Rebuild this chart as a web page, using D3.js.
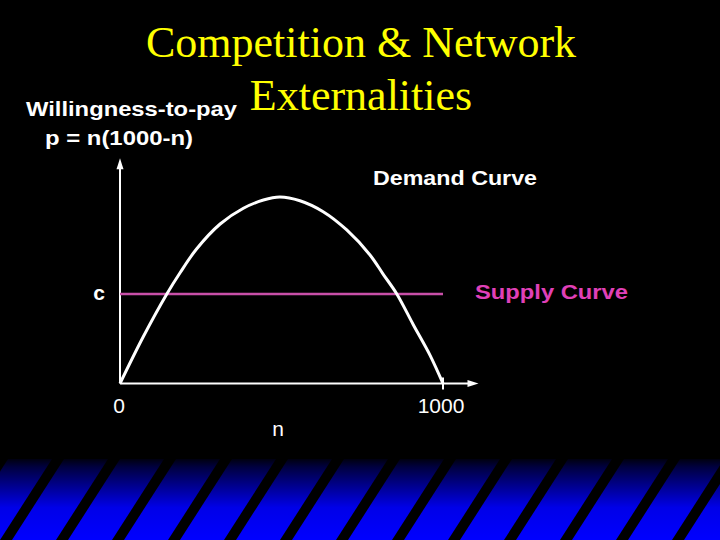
<!DOCTYPE html>
<html>
<head>
<meta charset="utf-8">
<script src="https://cdn.jsdelivr.net/npm/d3@7"></script>
<style>
  html, body { margin: 0; padding: 0; background: #000; }
  svg { display: block; }
</style>
</head>
<body>
<svg id="chart" width="720" height="540"></svg>
<script>
// ---- data ----
const titleLines = ["Competition & Network", "Externalities"];
const yAxisLabel = ["Willingness-to-pay", "p = n(1000-n)"];
const xTickValues = [0, 1000];
const xTickLabels = ["0", "1000"];
const xAxisLabel = "n";
// demand curve
const demandN = [0, 72, 145, 186, 237, 310, 382, 444, 495, 557, 629, 702, 774, 815, 857, 908, 960, 1000];
const demandP = [0, 62700, 120000, 148500, 180300, 213800, 234900, 246000, 250000, 245000, 230300, 205800, 172300, 146400, 120000, 78800, 37800, 0];
const supplyC = 120000;
const supplyLabel = "Supply Curve";
const demandLabel = "Demand Curve";
const cLabel = "c";

const svg = d3.select("#chart");
const W = 720, H = 540;

svg.append("rect").attr("width", W).attr("height", H).attr("fill", "#000");

// ---- decorative striped band at the bottom ----
const defs = svg.append("defs");
const grad = defs.append("linearGradient").attr("id", "bandGrad")
  .attr("x1", 0).attr("y1", 0).attr("x2", 0).attr("y2", 1);
grad.append("stop").attr("offset", "0%").attr("stop-color", "#000010");
grad.append("stop").attr("offset", "10%").attr("stop-color", "#000040");
grad.append("stop").attr("offset", "60%").attr("stop-color", "#0000e8");
grad.append("stop").attr("offset", "100%").attr("stop-color", "#0000ff");
const bandTop = 459, bandBot = 540;
svg.append("rect").attr("x", 0).attr("y", bandTop).attr("width", W)
  .attr("height", bandBot - bandTop).attr("fill", "url(#bandGrad)");
const period = 56, shift = 52, sw = 12;
const stripeStarts = d3.range(-period * 2, W + period * 2, period);
svg.append("g").selectAll("path").data(stripeStarts).join("path")
  .attr("d", x0 => `M${x0},${bandBot} L${x0 + sw},${bandBot} L${x0 + sw + shift},${bandTop} L${x0 + shift},${bandTop} Z`)
  .attr("fill", "#000");

// ---- scales ----
const x = d3.scaleLinear().domain([0, 1000]).range([120, 443]);
const y = d3.scaleLinear().domain([0, 250000]).range([383.5, 197]);
const xMax = 1110, yMax = 302000;

// ---- axes ----
const axisG = svg.append("g");
axisG.append("line")
  .attr("x1", x(0)).attr("x2", x(xMax) - 6)
  .attr("y1", y(0)).attr("y2", y(0))
  .attr("stroke", "#fff").attr("stroke-width", 2);
axisG.append("path")
  .attr("d", `M${x(xMax)},${y(0)} l-11,-3.5 l0,7 Z`).attr("fill", "#fff");
axisG.append("line")
  .attr("x1", x(0)).attr("x2", x(0))
  .attr("y1", y(0)).attr("y2", y(yMax) + 6)
  .attr("stroke", "#fff").attr("stroke-width", 2);
axisG.append("path")
  .attr("d", `M${x(0)},${y(yMax)} l-3.5,11 l7,0 Z`).attr("fill", "#fff");
// tick at 1000
axisG.append("line")
  .attr("x1", x(1000)).attr("x2", x(1000))
  .attr("y1", y(0) - 6).attr("y2", y(0) + 6)
  .attr("stroke", "#fff").attr("stroke-width", 2);

// ---- supply line ----
svg.append("line")
  .attr("x1", x(0)).attr("x2", x(1000))
  .attr("y1", y(supplyC)).attr("y2", y(supplyC))
  .attr("stroke", "#c84fa8").attr("stroke-width", 2.5);

// ---- demand curve ----
const pts = demandN.map((n, i) => [n, demandP[i]]);
svg.append("path").datum(pts)
  .attr("d", d3.line().x(d => x(d[0])).y(d => y(d[1])).curve(d3.curveCatmullRom.alpha(0.5)))
  .attr("fill", "none").attr("stroke", "#fff").attr("stroke-width", 3)
  .attr("stroke-linejoin", "round");

// ---- text ----
const sans = "'Liberation Sans', Arial, sans-serif";
const serif = "'Liberation Serif', 'Times New Roman', serif";

svg.append("g").selectAll("text").data(titleLines).join("text")
  .attr("x", 361).attr("y", (d, i) => 57 + i * 53)
  .attr("text-anchor", "middle")
  .attr("font-family", serif).attr("font-size", 44)
  .attr("fill", "#ffff00").text(d => d);

svg.append("text").attr("x", 26).attr("y", 116)
  .attr("font-family", sans).attr("font-weight", "bold").attr("font-size", 21)
  .attr("fill", "#fff").attr("textLength", 211).attr("lengthAdjust", "spacingAndGlyphs")
  .text(yAxisLabel[0]);
svg.append("text").attr("x", 45).attr("y", 145)
  .attr("font-family", sans).attr("font-weight", "bold").attr("font-size", 21)
  .attr("fill", "#fff").attr("textLength", 148).attr("lengthAdjust", "spacingAndGlyphs")
  .text(yAxisLabel[1]);

svg.append("text").attr("x", 373).attr("y", 185)
  .attr("font-family", sans).attr("font-weight", "bold").attr("font-size", 20)
  .attr("fill", "#fff").attr("textLength", 164).attr("lengthAdjust", "spacingAndGlyphs")
  .text(demandLabel);

svg.append("text").attr("x", 475).attr("y", 299)
  .attr("font-family", sans).attr("font-weight", "bold").attr("font-size", 20)
  .attr("fill", "#e040b8").attr("textLength", 153).attr("lengthAdjust", "spacingAndGlyphs")
  .text(supplyLabel);

svg.append("text").attr("x", 99).attr("y", 300)
  .attr("text-anchor", "middle")
  .attr("font-family", sans).attr("font-weight", "bold").attr("font-size", 21)
  .attr("fill", "#fff").text(cLabel);

svg.append("g").selectAll("text").data(xTickValues).join("text")
  .attr("x", d => x(d)).attr("y", 413)
  .attr("text-anchor", "middle")
  .attr("dx", (d, i) => i === 0 ? -1 : -2)
  .attr("font-family", sans).attr("font-size", 21)
  .attr("fill", "#fff").text((d, i) => xTickLabels[i]);

svg.append("text").attr("x", 278).attr("y", 436)
  .attr("text-anchor", "middle")
  .attr("font-family", sans).attr("font-size", 21)
  .attr("fill", "#fff").text(xAxisLabel);
</script>
</body>
</html>
